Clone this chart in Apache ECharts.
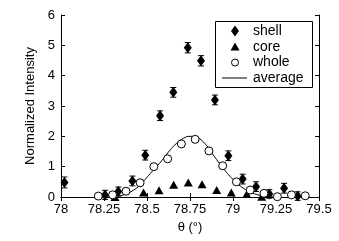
<!DOCTYPE html>
<html>
<head>
<meta charset="utf-8">
<script src="https://cdn.jsdelivr.net/npm/echarts@6/dist/echarts.min.js"></script>
<style>html,body{margin:0;padding:0;background:#fff}#c{width:339px;height:241px}</style>
</head>
<body>
<div id="c"></div>
<script>
var shellX = [78.02, 78.256, 78.333, 78.415, 78.49, 78.576, 78.653, 78.737, 78.814, 78.895, 78.973, 79.056, 79.134, 79.211, 79.297, 79.376];
var shellY = [0.48, 0.07, 0.18, 0.53, 1.38, 2.68, 3.45, 4.92, 4.49, 3.2, 1.36, 0.59, 0.34, 0.1, 0.29, 0.03];
var shellErr = [0.18, 0.15, 0.15, 0.16, 0.16, 0.16, 0.16, 0.17, 0.17, 0.16, 0.16, 0.16, 0.16, 0.14, 0.16, 0.14];
var coreX = [78.314, 78.48, 78.57, 78.655, 78.74, 78.82, 78.905, 78.99, 79.08, 79.167];
var coreY = [0.0, 0.15, 0.22, 0.4, 0.48, 0.42, 0.23, 0.15, 0.1, 0.01];
var wholeX = [78.217, 78.3, 78.378, 78.46, 78.54, 78.62, 78.7, 78.78, 78.86, 78.94, 79.02, 79.1, 79.18, 79.258, 79.34, 79.42];
var wholeY = [0.03, 0.07, 0.19, 0.47, 1.0, 1.26, 1.75, 1.9, 1.52, 1.03, 0.5, 0.23, 0.12, 0.01, 0.07, 0.04];
var avgX = [78.27, 78.32, 78.37, 78.42, 78.46, 78.52, 78.58, 78.63, 78.67, 78.71, 78.75, 78.79, 78.84, 78.89, 78.94, 79.0, 79.06, 79.11, 79.16, 79.2, 79.25];
var avgY = [0, 0.03, 0.08, 0.22, 0.4, 0.78, 1.16, 1.52, 1.76, 1.93, 2.0, 1.96, 1.74, 1.35, 0.97, 0.58, 0.29, 0.14, 0.05, 0.01, 0];
var xTicks = [78, 78.25, 78.5, 78.75, 79, 79.25, 79.5];
var yTicks = [0, 1, 2, 3, 4, 5, 6];
var legendNames = ['shell', 'core', 'whole', 'average'];

function zip(a, b) { return a.map(function (v, i) { return [v, b[i]]; }); }

var FONT = 'Liberation Sans, Arial, sans-serif';
var chart = echarts.init(document.getElementById('c'), null, { renderer: 'canvas' });
var axisLine = { show: true, lineStyle: { color: '#000', width: 1 } };
var tickStyle = { show: true, inside: true, length: 4, lineStyle: { color: '#000' } };

// legend drawn as graphic (box, marker glyphs, real text)
var LX = 215, LY = 21, LW = 97, LH = 66, rowY = [31, 47, 62.5, 78], symX = 235, textX = 253;
var legendGraphic = [
  { type: 'rect', shape: { x: LX + 0.5, y: LY + 0.5, width: LW, height: LH }, style: { fill: '#fff', stroke: '#000', lineWidth: 1 }, z: 10 },
  { type: 'polygon', shape: { points: [[symX, rowY[0] - 5.5], [symX + 4, rowY[0]], [symX, rowY[0] + 5.5], [symX - 4, rowY[0]]] }, style: { fill: '#000' }, z: 11 },
  { type: 'polygon', shape: { points: [[symX, rowY[1] - 4.5], [symX + 4.5, rowY[1] + 3.5], [symX - 4.5, rowY[1] + 3.5]] }, style: { fill: '#000' }, z: 11 },
  { type: 'circle', shape: { cx: symX, cy: rowY[2], r: 3.5 }, style: { fill: '#fff', stroke: '#000', lineWidth: 1 }, z: 11 },
  { type: 'line', shape: { x1: 222, y1: rowY[3], x2: 247, y2: rowY[3] }, style: { stroke: '#000', lineWidth: 1 }, z: 11 }
];
legendNames.forEach(function (n, i) {
  legendGraphic.push({ type: 'text', x: textX, y: rowY[i], style: { text: n, fill: '#000', font: '14px ' + FONT, textVerticalAlign: 'middle', verticalAlign: 'middle' }, z: 11 });
});

chart.setOption({
  animation: false,
  backgroundColor: '#fff',
  grid: { left: 61, right: 20, top: 15, bottom: 44, containLabel: false },
  xAxis: [{
    type: 'value', min: xTicks[0], max: xTicks[xTicks.length - 1], interval: 0.25,
    axisLine: axisLine, axisTick: tickStyle, splitLine: { show: false },
    axisLabel: { color: '#000', fontSize: 13, fontFamily: FONT, margin: 6,
      formatter: function (v) { return xTicks.indexOf(+v.toFixed(2)) >= 0 ? String(+v.toFixed(2)) : ''; } },
    name: 'θ (°)', nameLocation: 'middle', nameGap: 22,
    nameTextStyle: { color: '#000', fontSize: 13, fontFamily: FONT }
  }, {
    type: 'value', position: 'top', min: xTicks[0], max: xTicks[xTicks.length - 1], interval: 0.25,
    axisLine: axisLine, axisTick: tickStyle, axisLabel: { show: false }, splitLine: { show: false }
  }],
  yAxis: [{
    type: 'value', min: yTicks[0], max: yTicks[yTicks.length - 1], interval: 1,
    axisLine: axisLine, axisTick: tickStyle, splitLine: { show: false },
    axisLabel: { color: '#000', fontSize: 13, fontFamily: FONT, margin: 6 },
    name: 'Normalized Intensity', nameLocation: 'middle', nameGap: 19,
    nameTextStyle: { color: '#000', fontSize: 13, fontFamily: FONT }
  }, {
    type: 'value', position: 'right', min: yTicks[0], max: yTicks[yTicks.length - 1], interval: 1,
    axisLine: axisLine, axisTick: tickStyle, axisLabel: { show: false }, splitLine: { show: false }
  }],
  graphic: legendGraphic,
  series: [
    {
      name: 'average', type: 'line', data: zip(avgX, avgY), smooth: true, symbol: 'none',
      lineStyle: { color: '#000', width: 1 }, itemStyle: { color: '#000' }, z: 2
    },
    {
      name: 'shellErr', type: 'custom',
      data: shellX.map(function (x, i) { return [x, shellY[i] - shellErr[i], shellY[i] + shellErr[i]]; }),
      renderItem: function (params, api) {
        var lo = api.coord([api.value(0), api.value(1)]);
        var hi = api.coord([api.value(0), api.value(2)]);
        var w = 3;
        var st = { stroke: '#000', lineWidth: 1 };
        return { type: 'group', children: [
          { type: 'line', shape: { x1: lo[0], y1: lo[1], x2: hi[0], y2: hi[1] }, style: st },
          { type: 'line', shape: { x1: lo[0] - w, y1: lo[1], x2: lo[0] + w, y2: lo[1] }, style: st },
          { type: 'line', shape: { x1: hi[0] - w, y1: hi[1], x2: hi[0] + w, y2: hi[1] }, style: st }
        ] };
      },
      encode: { x: 0, y: [1, 2] }, z: 3, silent: true
    },
    {
      name: 'shell', type: 'scatter', data: zip(shellX, shellY), symbol: 'diamond', symbolSize: [8, 11],
      itemStyle: { color: '#000', opacity: 1 }, z: 4
    },
    {
      name: 'core', type: 'scatter', data: zip(coreX, coreY), symbol: 'triangle', symbolSize: [9, 8],
      itemStyle: { color: '#000', opacity: 1 }, z: 4
    },
    {
      name: 'whole', type: 'scatter', data: zip(wholeX, wholeY), symbol: 'circle', symbolSize: 8,
      itemStyle: { color: '#fff', borderColor: '#000', borderWidth: 1, opacity: 1 }, z: 5
    }
  ]
});
</script>
</body>
</html>
